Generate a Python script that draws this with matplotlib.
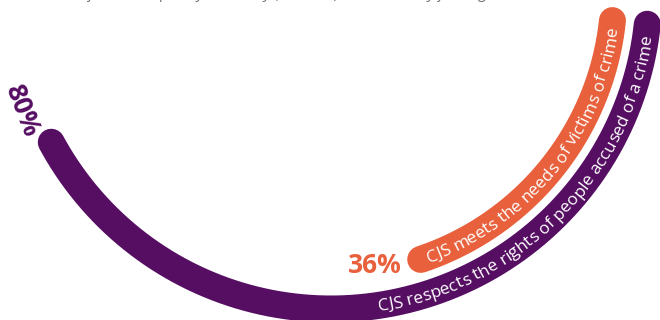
import numpy as np
import matplotlib
matplotlib.use("Agg")
import matplotlib.pyplot as plt
from matplotlib import font_manager
from matplotlib.ft2font import FT2Font

# survey results, % agreeing
labels = ["CJS respects the rights of people accused of a crime",
          "CJS meets the needs of victims of crime"]
values = [80, 36]
value_labels = ["80%", "36%"]

colors = ["#560E63", "#E8603C"]
radii = [318, 283]          # ring radius in pixels
ring_width = 27             # pixels
sweep = 182.0               # degrees for 100%
offset = -6.0               # where the rings end, degrees

FONT = "Open Sans"
LABEL_SIZE = 12.5

fig = plt.figure(figsize=(6.6, 3.2), dpi=100)
ax = fig.add_axes([-9 / 660, -11 / 320, 680 / 660, 680 / 320], projection="polar")
ax.set_theta_offset(np.deg2rad(offset))
ax.set_theta_direction(-1)
ax.set_rlim(0, 340)
ax.axis("off")


def advances(s, size):
    ft = FT2Font(font_manager.findfont(font_manager.FontProperties(family=FONT)))
    ft.set_size(size, 100)
    return np.array([ft.load_char(ord(ch)).linearHoriAdvance / 65536 for ch in s])


def arc_text(s, theta0, r, size, centre=False, **kw):
    # lay out characters one by one along a circle, reading towards theta=0
    adv = advances(s, size)
    rb = r + 0.33 * size * 100 / 72
    pos = np.cumsum(adv) - adv / 2
    if centre:
        theta0 = theta0 + adv.sum() / 2 / rb
    for ch, p in zip(s, pos):
        th = theta0 - p / rb
        rot = offset - np.rad2deg(th) + 90
        ax.text(th, rb, ch, rotation=rot, rotation_mode="anchor",
                ha="center", va="baseline", fontsize=size, family=FONT, **kw)


for lab, v, c, r in zip(labels, values, colors, radii):
    t_end = np.deg2rad(v / 100 * sweep)
    th = np.linspace(0, t_end, 300)
    ax.plot(th, np.full_like(th, r), color=c, lw=ring_width * 0.72,
            solid_capstyle="round")

# white labels on the rings
t_pu = np.deg2rad(values[0] / 100 * sweep)
t_or = np.deg2rad(values[1] / 100 * sweep)
arc_text(labels[0], np.deg2rad(75.5), radii[0], LABEL_SIZE, color="white")
arc_text(labels[1], t_or / 2, radii[1], LABEL_SIZE, centre=True, color="white")

# value labels
t_lab = t_pu + np.deg2rad(7.3)
ax.text(t_lab, 331, value_labels[0], rotation=offset - np.rad2deg(t_lab) + 90,
        rotation_mode="anchor", ha="center", va="center", fontsize=19,
        fontweight="bold", color=colors[0], family=FONT)
ax.text(t_or + np.deg2rad(4), 284, value_labels[1], ha="right", va="center",
        fontsize=19, fontweight="bold", color=colors[1], family=FONT)

# subtitle running off the top
fig.text(0.03, 1 + 2 / 320,
         "Adults confident completely or mostly (2019/20), Crime Survey for England and Wales",
         fontsize=11, style="italic", color="#707070", family=FONT, va="baseline")

fig.savefig("out.png", dpi=100)
